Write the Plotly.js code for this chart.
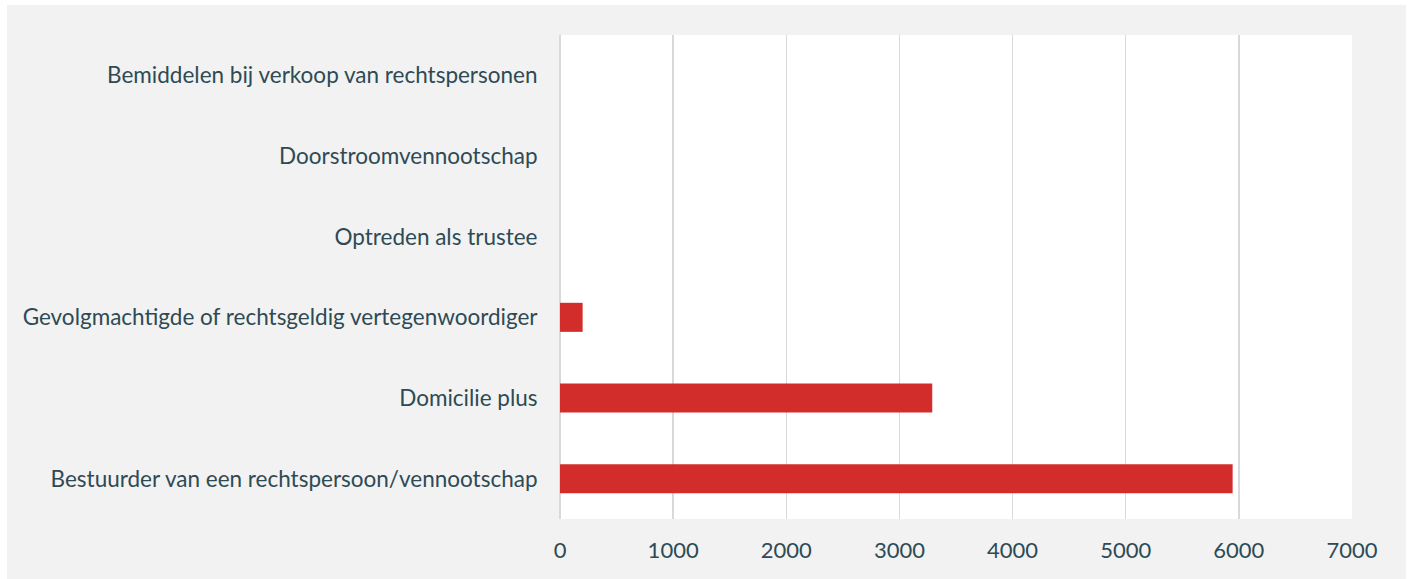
<!DOCTYPE html>
<html>
<head>
<meta charset="utf-8">
<script src="https://cdn.plot.ly/plotly-3.0.1.min.js"></script>
<style>
  html, body { margin: 0; padding: 0; background: #ffffff; }
  #chart { position: absolute; left: 7px; top: 5px; width: 1399px; height: 574px; }
</style>
</head>
<body>
<div id="chart"></div>
<script>
const categories = [
  "Bestuurder van een rechtspersoon/vennootschap",
  "Domicilie plus",
  "Gevolgmachtigde of rechtsgeldig vertegenwoordiger",
  "Optreden als trustee",
  "Doorstroomvennootschap",
  "Bemiddelen bij verkoop van rechtspersonen"
];
const values = [5945, 3290, 200, 0, 0, 0];
const tickValues = [0, 1000, 2000, 3000, 4000, 5000, 6000, 7000];

const textColor = "#2d4a55";
const trace = {
  type: "bar",
  orientation: "h",
  y: categories,
  x: values,
  marker: { color: "#d22c2b", line: { width: 0 } },
  hoverinfo: "x+y"
};

const layout = {
  width: 1399,
  height: 574,
  paper_bgcolor: "#f2f2f2",
  plot_bgcolor: "#ffffff",
  margin: { l: 553, r: 54, t: 30, b: 60 },
  bargap: 0.64,
  showlegend: false,
  font: { family: "Lato, 'Open Sans', sans-serif", size: 22.5, color: textColor },
  xaxis: {
    range: [0, 7000],
    tickvals: tickValues,
    ticktext: tickValues.map(String),
    showgrid: true,
    gridcolor: "#d9d9d9",
    gridwidth: 1.5,
    zeroline: true,
    zerolinecolor: "#d9d9d9",
    zerolinewidth: 1.5,
    showline: false,
    ticks: "outside",
    ticklen: 12,
    tickcolor: "rgba(0,0,0,0)",
    tickfont: { size: 22, color: textColor },
    fixedrange: true
  },
  yaxis: {
    type: "category",
    categoryorder: "array",
    categoryarray: categories,
    showgrid: false,
    zeroline: false,
    showline: false,
    ticks: "outside",
    ticklen: 17,
    tickcolor: "rgba(0,0,0,0)",
    tickfont: { size: 22.5, color: textColor },
    fixedrange: true
  }
};

Plotly.newPlot("chart", [trace], layout, { displayModeBar: false, staticPlot: true });
</script>
</body>
</html>
